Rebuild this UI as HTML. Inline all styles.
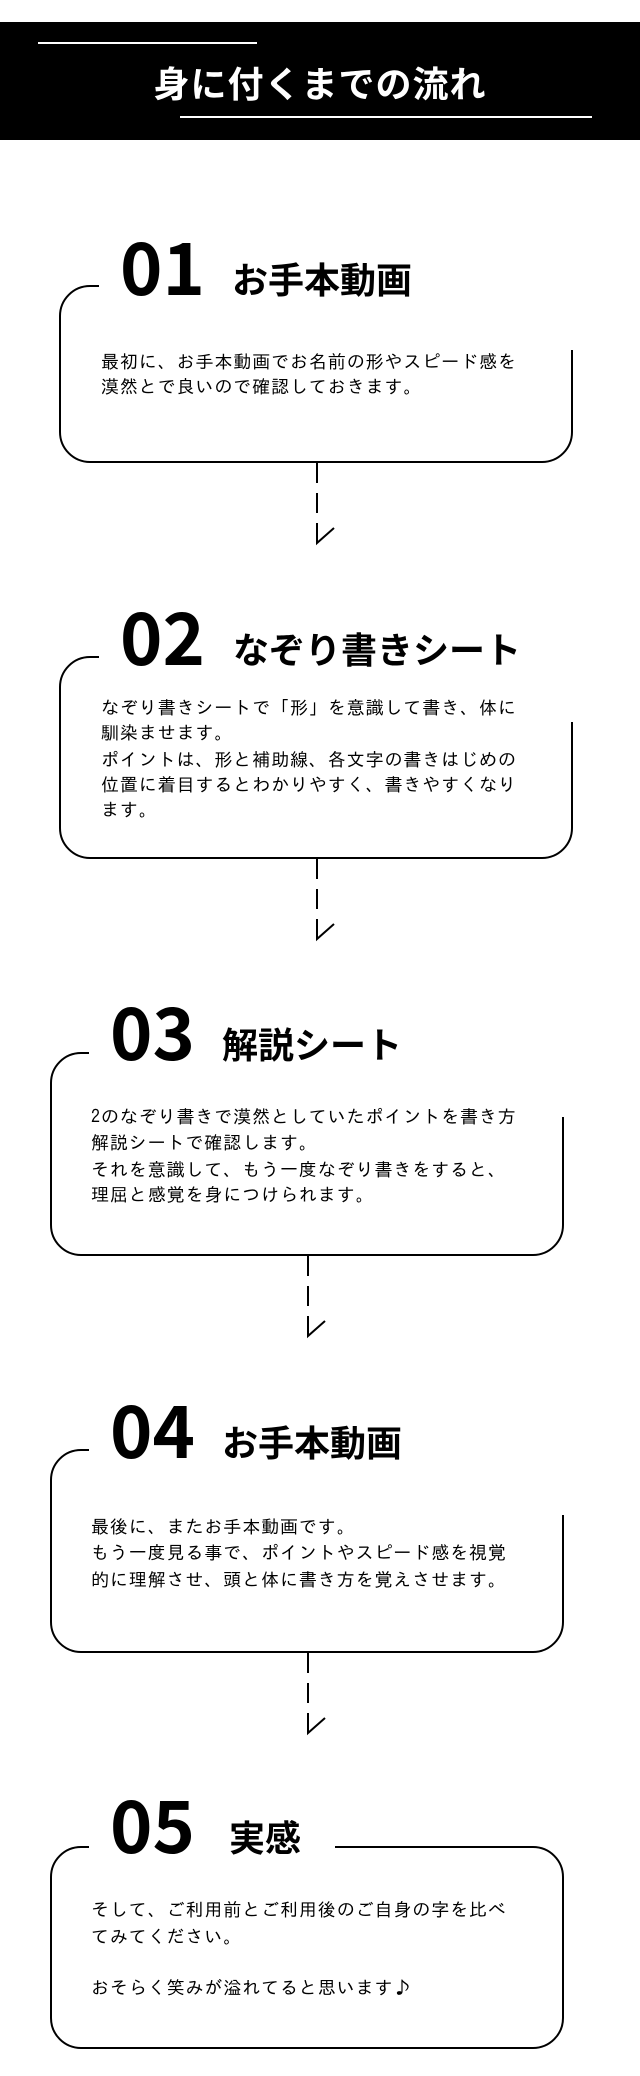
<!DOCTYPE html>
<html><head><meta charset="utf-8">
<style>
html,body{margin:0;padding:0;background:#fff;}
svg{display:block;}
.num{font-family:"Noto Sans CJK JP",sans-serif;font-weight:700;font-size:72px;fill:#000;}
.ttl{font-family:"Noto Sans CJK JP","Liberation Sans",sans-serif;font-weight:700;font-size:36px;fill:#000;}
.txt{font-family:"IPAGothic","WenQuanYi Zen Hei",sans-serif;font-weight:400;font-size:18px;letter-spacing:0.9px;fill:#000;}
.hd{font-family:"Noto Sans CJK JP","Liberation Sans",sans-serif;font-weight:700;font-size:36px;fill:#fff;letter-spacing:1px;}
.ln{fill:none;stroke:#000;stroke-width:2;}
</style></head><body>
<svg width="640" height="2076" viewBox="0 0 640 2076" xmlns="http://www.w3.org/2000/svg">
<rect x="0" y="22" width="640" height="118" fill="#000"/>
<line x1="38" y1="43" x2="257" y2="43" stroke="#fff" stroke-width="2"/>
<line x1="180" y1="117" x2="592" y2="117" stroke="#fff" stroke-width="2"/>
<text class="hd" x="320" y="97" text-anchor="middle">身に付くまでの流れ</text>

<path class="ln" d="M99 286 H90 A30 30 0 0 0 60 316 V432 A30 30 0 0 0 90 462 H542 A30 30 0 0 0 572 432 V350"/>
<text class="num" x="120" y="295">01</text>
<text class="ttl" x="232" y="293">お手本動画</text>
<text class="txt" x="101" y="368">最初に、お手本動画でお名前の形やスピード感を</text>
<text class="txt" x="101" y="393">漠然とで良いので確認しておきます。</text>
<path class="ln" d="M317 463 V483 M317 493 V513 M317 523 V543 L334 528"/>

<path class="ln" d="M99 657 H90 A30 30 0 0 0 60 687 V828 A30 30 0 0 0 90 858 H542 A30 30 0 0 0 572 828 V722"/>
<text class="num" x="120" y="665">02</text>
<text class="ttl" x="233" y="663">なぞり書きシート</text>
<text class="txt" x="101" y="714">なぞり書きシートで「形」を意識して書き、体に</text>
<text class="txt" x="101" y="739">馴染ませます。</text>
<text class="txt" x="101" y="766">ポイントは、形と補助線、各文字の書きはじめの</text>
<text class="txt" x="101" y="791">位置に着目するとわかりやすく、書きやすくなり</text>
<text class="txt" x="101" y="816">ます。</text>
<path class="ln" d="M317 859 V879 M317 889 V909 M317 919 V939 L334 924"/>

<path class="ln" d="M89 1053 H81 A30 30 0 0 0 51 1083 V1225 A30 30 0 0 0 81 1255 H533 A30 30 0 0 0 563 1225 V1117"/>
<text class="num" x="110" y="1060">03</text>
<text class="ttl" x="222" y="1058">解説シート</text>
<text class="txt" x="91" y="1123">2のなぞり書きで漠然としていたポイントを書き方</text>
<text class="txt" x="91" y="1149">解説シートで確認します。</text>
<text class="txt" x="91" y="1176">それを意識して、もう一度なぞり書きをすると、</text>
<text class="txt" x="91" y="1201">理屈と感覚を身につけられます。</text>
<path class="ln" d="M308 1256 V1276 M308 1286 V1306 M308 1316 V1336 L325 1321"/>

<path class="ln" d="M89 1450 H81 A30 30 0 0 0 51 1480 V1622 A30 30 0 0 0 81 1652 H533 A30 30 0 0 0 563 1622 V1515"/>
<text class="num" x="110" y="1458">04</text>
<text class="ttl" x="222" y="1456">お手本動画</text>
<text class="txt" x="91" y="1533">最後に、またお手本動画です。</text>
<text class="txt" x="91" y="1559">もう一度見る事で、ポイントやスピード感を視覚</text>
<text class="txt" x="91" y="1586">的に理解させ、頭と体に書き方を覚えさせます。</text>
<path class="ln" d="M308 1653 V1673 M308 1683 V1703 M308 1713 V1733 L325 1718"/>

<path class="ln" d="M89 1847 H81 A30 30 0 0 0 51 1877 V2018 A30 30 0 0 0 81 2048 H533 A30 30 0 0 0 563 2018 V1877 A30 30 0 0 0 533 1847 H335"/>
<text class="num" x="110" y="1853">05</text>
<text class="ttl" x="229" y="1851">実感</text>
<text class="txt" x="91" y="1916">そして、ご利用前とご利用後のご自身の字を比べ</text>
<text class="txt" x="91" y="1943">てみてください。</text>
<text class="txt" x="91" y="1994">おそらく笑みが溢れてると思います♪</text>
</svg>
</body></html>
